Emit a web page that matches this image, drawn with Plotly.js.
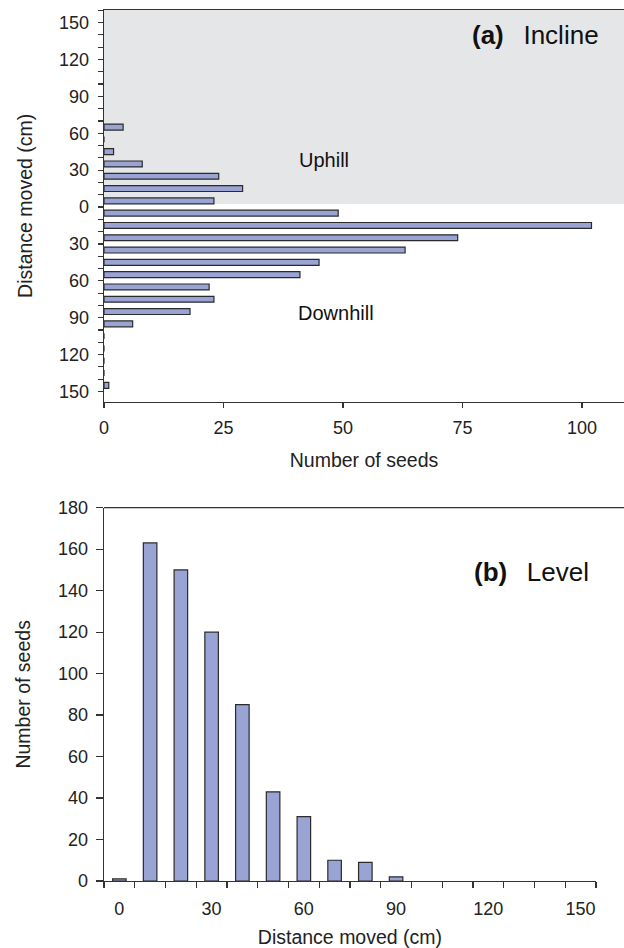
<!DOCTYPE html>
<html>
<head>
<meta charset="utf-8">
<script src="https://cdn.plot.ly/plotly-3.0.1.min.js"></script>
<style>html,body{margin:0;padding:0;background:#fff;}#chart{width:624px;height:948px;}</style>
</head>
<body>
<div id="chart"></div>
<script>
// Panel (a) Incline: 10-cm bins, bin centre distance (cm)
const uphillDist = [5, 15, 25, 35, 45, 55, 65];
const uphillCount = [23, 29, 24, 8, 2, 0, 4];
const downhillDist = [5, 15, 25, 35, 45, 55, 65, 75, 85, 95, 105, 115, 125, 135, 145];
const downhillCount = [49, 102, 74, 63, 45, 41, 22, 23, 18, 6, 0, 0, 0, 0, 1];
const inclineTickDist = [150, 120, 90, 60, 30, 0, 30, 60, 90, 120, 150];
const inclineTickSign = [1, 1, 1, 1, 1, 0, -1, -1, -1, -1, -1];
const seedTicksA = [0, 25, 50, 75, 100];

// Panel (b) Level
const levelDist = [0, 10, 20, 30, 40, 50, 60, 70, 80, 90];
const levelCount = [1, 163, 150, 120, 85, 43, 31, 10, 9, 2];
const levelTicks = [0, 30, 60, 90, 120, 150];
const seedTicksB = [0, 20, 40, 60, 80, 100, 120, 140, 160, 180];

const FONT = 'Liberation Sans, Arial, Helvetica, sans-serif';
const TXT = '#222222';
const BAR = '#99a3d4';
const EDGE = '#2b2b2b';

const barStyle = {color: BAR, line: {color: EDGE, width: 1.2}};

const traces = [
  {type: 'bar', orientation: 'h', x: uphillCount, y: uphillDist, width: 4.8,
   marker: barStyle, xaxis: 'x', yaxis: 'y', hoverinfo: 'x+y'},
  {type: 'bar', orientation: 'h', x: downhillCount, y: downhillDist.map(d => -d), width: 4.8,
   marker: barStyle, xaxis: 'x', yaxis: 'y', hoverinfo: 'x+y'},
  {type: 'bar', x: levelDist, y: levelCount, width: 4.4,
   marker: barStyle, xaxis: 'x2', yaxis: 'y2', hoverinfo: 'x+y'}
];

const axisCommon = {
  showgrid: false, zeroline: false, showline: true, linecolor: '#333', linewidth: 1.3,
  ticks: 'outside', tickcolor: '#333', tickwidth: 1.2,
  tickfont: {family: FONT, size: 18, color: TXT}
};

const layout = {
  width: 624, height: 948,
  margin: {l: 104, r: 0, t: 10, b: 67, pad: 0},
  paper_bgcolor: '#ffffff', plot_bgcolor: 'rgba(0,0,0,0)',
  showlegend: false, bargap: 0,
  font: {family: FONT, color: TXT},
  xaxis: Object.assign({}, axisCommon, {
    domain: [0, 1], anchor: 'y', range: [0, 108.8],
    tickmode: 'array', tickvals: seedTicksA, ticklen: 5, ticklabelstandoff: 4,
    mirror: true,
    title: {text: 'Number of seeds', font: {family: FONT, size: 19.5, color: TXT}, standoff: 16}
  }),
  yaxis: Object.assign({}, axisCommon, {
    domain: [0.5503, 1], anchor: 'x', range: [-158.3, 160.2],
    tickmode: 'array',
    tickvals: inclineTickDist.map((d, i) => d * inclineTickSign[i]),
    ticktext: inclineTickDist.map(String),
    ticklen: 5, ticklabelstandoff: 5,
    minor: {tickmode: 'linear', tick0: 0, dtick: 10, ticks: 'outside', ticklen: 5, tickcolor: '#333', tickwidth: 1.2},
    title: {text: 'Distance moved (cm)', font: {family: FONT, size: 19.5, color: TXT}, standoff: 21}
  }),
  xaxis2: Object.assign({}, axisCommon, {
    domain: [0, 0.946], anchor: 'y2', range: [-5, 155],
    tickmode: 'array', tickvals: levelTicks, ticks: '', ticklen: 6, ticklabelstandoff: 11,
    minor: {tickmode: 'linear', tick0: 5, dtick: 10, ticks: 'outside', ticklen: 6, tickcolor: '#333', tickwidth: 1.2},
    title: {text: 'Distance moved (cm)', font: {family: FONT, size: 19.5, color: TXT}, standoff: 13}
  }),
  yaxis2: Object.assign({}, axisCommon, {
    domain: [0, 0.4286], anchor: 'x2', range: [0, 180],
    tickmode: 'array', tickvals: seedTicksB, ticklen: 7, ticklabelstandoff: 4,
    title: {text: 'Number of seeds', font: {family: FONT, size: 19.5, color: TXT}, standoff: 22}
  }),
  shapes: [
    {type: 'rect', layer: 'below', xref: 'x domain', yref: 'y', x0: 0, x1: 1, y0: 2.5, y1: 160.2,
     fillcolor: '#e5e6e8', line: {width: 0}},
    {type: 'line', xref: 'paper', yref: 'y2 domain', x0: 0, x1: 1, y0: 1, y1: 1,
     line: {color: '#333', width: 1.3}}
  ],
  annotations: [
    {xref: 'paper', yref: 'y', x: 0.955, y: 140, xanchor: 'right', yanchor: 'middle', showarrow: false,
     text: '<b>(a)</b>\u00a0\u00a0\u2009Incline', font: {family: FONT, size: 26, color: '#111'}},
    {xref: 'x', yref: 'y', x: 46, y: 38, xanchor: 'center', yanchor: 'middle', showarrow: false,
     text: 'Uphill', font: {family: FONT, size: 20, color: '#111'}},
    {xref: 'x', yref: 'y', x: 48.5, y: -86, xanchor: 'center', yanchor: 'middle', showarrow: false,
     text: 'Downhill', font: {family: FONT, size: 20, color: '#111'}},
    {xref: 'x2', yref: 'y2', x: 153.5, y: 149, xanchor: 'right', yanchor: 'middle', showarrow: false,
     text: '<b>(b)</b>\u00a0\u00a0\u2009Level', font: {family: FONT, size: 26, color: '#111'}}
  ]
};

Plotly.newPlot('chart', traces, layout, {staticPlot: true, displayModeBar: false});
</script>
</body>
</html>
